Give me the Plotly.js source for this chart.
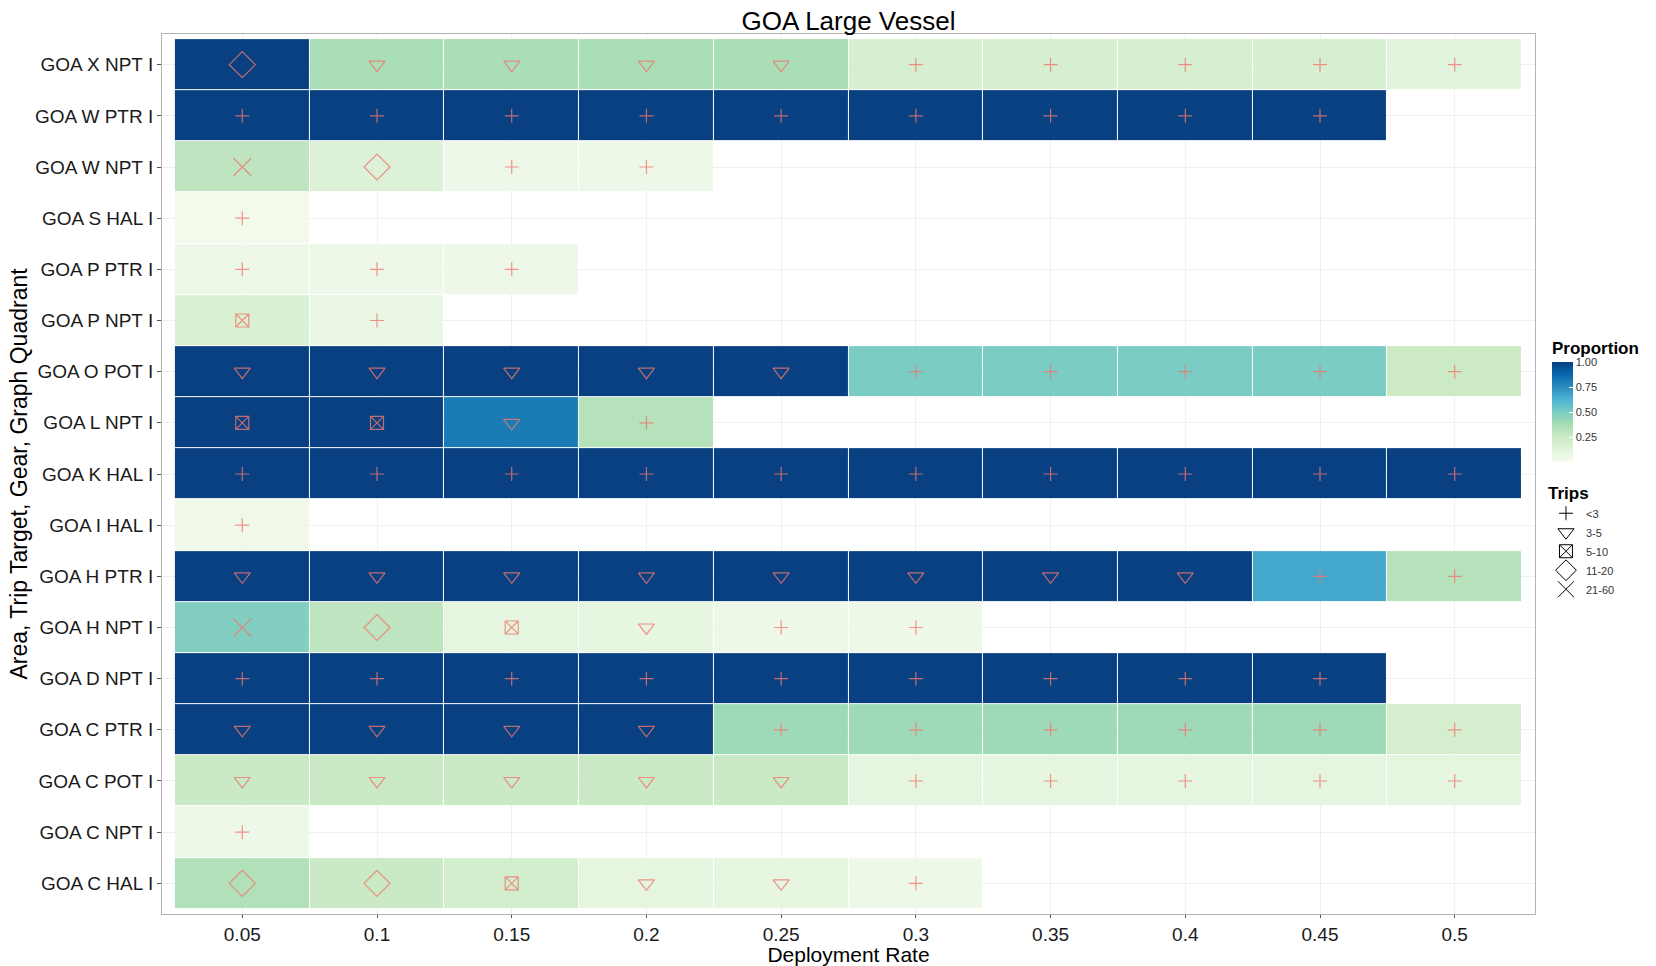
<!DOCTYPE html>
<html>
<head>
<meta charset="utf-8">
<script src="https://cdn.plot.ly/plotly-3.0.1.min.js"></script>
<style>
  html, body { margin: 0; padding: 0; background: #ffffff; }
  #chart { width: 1656px; height: 966px; }
</style>
</head>
<body>
<div id="chart"></div>
<script>
// ---------- DATA ----------
const rates = [0.05, 0.1, 0.15, 0.2, 0.25, 0.3, 0.35, 0.4, 0.45, 0.5];
const xTickLabels = ["0.05", "0.1", "0.15", "0.2", "0.25", "0.3", "0.35", "0.4", "0.45", "0.5"];

// rows listed top to bottom
const rows = [
  "GOA X NPT I", "GOA W PTR I", "GOA W NPT I", "GOA S HAL I", "GOA P PTR I",
  "GOA P NPT I", "GOA O POT I", "GOA L NPT I", "GOA K HAL I", "GOA I HAL I",
  "GOA H PTR I", "GOA H NPT I", "GOA D NPT I", "GOA C PTR I", "GOA C POT I",
  "GOA C NPT I", "GOA C HAL I"
];

const N = null;
// proportion (fill) per row, per deployment rate
const propXNPT = [1, 0.37, 0.37, 0.37, 0.37, 0.19, 0.19, 0.19, 0.19, 0.11];
const propWPTR = [1, 1, 1, 1, 1, 1, 1, 1, 1, N];
const propWNPT = [0.3, 0.15, 0.05, 0.05, N, N, N, N, N, N];
const propSHAL = [0.03, N, N, N, N, N, N, N, N, N];
const propPPTR = [0.05, 0.05, 0.05, N, N, N, N, N, N, N];
const propPNPT = [0.17, 0.07, N, N, N, N, N, N, N, N];
const propOPOT = [1, 1, 1, 1, 1, 0.5, 0.5, 0.5, 0.5, 0.25];
const propLNPT = [1, 1, 0.81, 0.33, N, N, N, N, N, N];
const propKHAL = [1, 1, 1, 1, 1, 1, 1, 1, 1, 1];
const propIHAL = [0.04, N, N, N, N, N, N, N, N, N];
const propHPTR = [1, 1, 1, 1, 1, 1, 1, 1, 0.66, 0.33];
const propHNPT = [0.48, 0.3, 0.1, 0.09, 0.05, 0.05, N, N, N, N];
const propDNPT = [1, 1, 1, 1, 1, 1, 1, 1, 1, N];
const propCPTR = [1, 1, 1, 1, 0.4, 0.4, 0.4, 0.4, 0.4, 0.2];
const propCPOT = [0.26, 0.26, 0.26, 0.26, 0.26, 0.1, 0.1, 0.1, 0.1, 0.1];
const propCNPT = [0.05, N, N, N, N, N, N, N, N, N];
const propCHAL = [0.34, 0.26, 0.21, 0.1, 0.09, 0.05, N, N, N, N];

// trips class per row: p "<3", t "3-5", s "5-10", d "11-20", x "21-60"
const tripXNPT = ["d", "t", "t", "t", "t", "p", "p", "p", "p", "p"];
const tripWPTR = ["p", "p", "p", "p", "p", "p", "p", "p", "p", ""];
const tripWNPT = ["x", "d", "p", "p", "", "", "", "", "", ""];
const tripSHAL = ["p", "", "", "", "", "", "", "", "", ""];
const tripPPTR = ["p", "p", "p", "", "", "", "", "", "", ""];
const tripPNPT = ["s", "p", "", "", "", "", "", "", "", ""];
const tripOPOT = ["t", "t", "t", "t", "t", "p", "p", "p", "p", "p"];
const tripLNPT = ["s", "s", "t", "p", "", "", "", "", "", ""];
const tripKHAL = ["p", "p", "p", "p", "p", "p", "p", "p", "p", "p"];
const tripIHAL = ["p", "", "", "", "", "", "", "", "", ""];
const tripHPTR = ["t", "t", "t", "t", "t", "t", "t", "t", "p", "p"];
const tripHNPT = ["x", "d", "s", "t", "p", "p", "", "", "", ""];
const tripDNPT = ["p", "p", "p", "p", "p", "p", "p", "p", "p", ""];
const tripCPTR = ["t", "t", "t", "t", "p", "p", "p", "p", "p", "p"];
const tripCPOT = ["t", "t", "t", "t", "t", "p", "p", "p", "p", "p"];
const tripCNPT = ["p", "", "", "", "", "", "", "", "", ""];
const tripCHAL = ["d", "d", "s", "t", "t", "p", "", "", "", ""];

const tripClasses = ["p", "t", "s", "d", "x"];
const tripLabels = ["<3", "3-5", "5-10", "11-20", "21-60"];

// ---------- BUILD ----------
const propMatrix = [propXNPT, propWPTR, propWNPT, propSHAL, propPPTR, propPNPT, propOPOT,
  propLNPT, propKHAL, propIHAL, propHPTR, propHNPT, propDNPT, propCPTR, propCPOT, propCNPT, propCHAL];
const tripMatrix = [tripXNPT, tripWPTR, tripWNPT, tripSHAL, tripPPTR, tripPNPT, tripOPOT,
  tripLNPT, tripKHAL, tripIHAL, tripHPTR, tripHNPT, tripDNPT, tripCPTR, tripCPOT, tripCNPT, tripCHAL];

const FONT = "Liberation Sans, Arial, Helvetica, sans-serif";
const gnbu = [
  [0.0, "#f7fcf0"], [0.125, "#e0f3db"], [0.25, "#ccebc5"], [0.375, "#a8ddb5"],
  [0.5, "#7bccc4"], [0.625, "#4eb3d3"], [0.75, "#2b8cbe"], [0.875, "#0868ac"], [1.0, "#084081"]
];

const symbolFor = { p: "cross-thin-open", t: "triangle-down-open", s: "square-x-open", d: "diamond-open", x: "x-thin-open" };
const sizeFor = { p: 10, t: 14, s: 13, d: 20, x: 18 };
const markColor = "rgba(240,120,110,0.8)";

const traces = [];
traces.push({
  type: "heatmap",
  x: rates,
  y: rows,
  z: propMatrix,
  zmin: 0, zmax: 1,
  colorscale: gnbu,
  xgap: 1, ygap: 1,
  hoverongaps: false,
  hoverinfo: "skip",
  colorbar: {
    x: 1.0124, xanchor: "left", xpad: 0,
    y: 0.584, yanchor: "middle", ypad: 0,
    len: 124, lenmode: "pixels",
    thickness: 21,
    outlinewidth: 0,
    tickvals: [0.25, 0.5, 0.75, 1.0],
    ticktext: ["0.25", "0.50", "0.75", "1.00"],
    ticks: "inside", ticklen: 4, tickcolor: "#ffffff",
    tickfont: { family: FONT, size: 11, color: "#333333" },
    title: { text: "<b>Proportion</b>", side: "top", font: { family: FONT, size: 17, color: "#000000" } }
  }
});

tripClasses.forEach(function (cls, k) {
  const xs = [], ys = [];
  tripMatrix.forEach(function (row, i) {
    row.forEach(function (c, j) {
      if (c === cls) { xs.push(rates[j]); ys.push(rows[i]); }
    });
  });
  traces.push({
    type: "scatter", mode: "markers",
    x: xs, y: ys,
    showlegend: false,
    hoverinfo: "skip",
    marker: { symbol: symbolFor[cls], size: sizeFor[cls], color: markColor, line: { width: 1.2, color: markColor } }
  });
  // legend key (black), no data points
  traces.push({
    type: "scatter", mode: "markers",
    x: [null], y: [null],
    name: tripLabels[k],
    showlegend: true,
    hoverinfo: "skip",
    marker: { symbol: symbolFor[cls], size: Math.min(sizeFor[cls], 16), color: "#000000", line: { width: 1, color: "#000000" } }
  });
});

const layout = {
  width: 1656, height: 966,
  margin: { l: 162, r: 121, t: 34, b: 52 },
  paper_bgcolor: "#ffffff",
  plot_bgcolor: "#ffffff",
  font: { family: FONT, color: "#1a1a1a" },
  title: {
    text: "GOA Large Vessel",
    xref: "paper", x: 0.5, xanchor: "center",
    yref: "container", y: 1 - 21 / 966, yanchor: "middle",
    font: { family: FONT, size: 26, color: "#000000" }
  },
  xaxis: {
    range: [0.0202, 0.5298],
    tickvals: rates, ticktext: xTickLabels,
    ticks: "outside", ticklen: 3, tickcolor: "#555555",
    tickfont: { family: FONT, size: 19, color: "#1a1a1a" },
    showgrid: true, gridcolor: "#f0f0f0", gridwidth: 1,
    zeroline: false,
    showline: true, mirror: true, linecolor: "#b3b3b3", linewidth: 1,
    automargin: false,
    title: { text: "Deployment Rate", standoff: 1, font: { family: FONT, size: 21, color: "#000000" } }
  },
  yaxis: {
    type: "category",
    categoryorder: "array", categoryarray: rows,
    range: [16.6, -0.6],
    ticks: "outside", ticklen: 4, tickcolor: "#555555",
    tickfont: { family: FONT, size: 19, color: "#1a1a1a" },
    showgrid: true, gridcolor: "#f0f0f0", gridwidth: 1,
    zeroline: false,
    showline: true, mirror: true, linecolor: "#b3b3b3", linewidth: 1,
    automargin: false,
    title: { text: "Area, Trip Target, Gear, Graph Quadrant", standoff: 0, font: { family: FONT, size: 23, color: "#000000" } }
  },
  legend: {
    x: 1.008, xanchor: "left",
    y: 0.497, yanchor: "top",
    bgcolor: "rgba(0,0,0,0)",
    font: { family: FONT, size: 11, color: "#333333" },
    title: { text: "<b>Trips</b>", side: "top", font: { family: FONT, size: 17, color: "#000000" } },
    itemsizing: "trace",
    tracegroupgap: 0,
    itemwidth: 30
  },
  showlegend: true
};

Plotly.newPlot("chart", traces, layout, { displayModeBar: false, staticPlot: true });
</script>
</body>
</html>
